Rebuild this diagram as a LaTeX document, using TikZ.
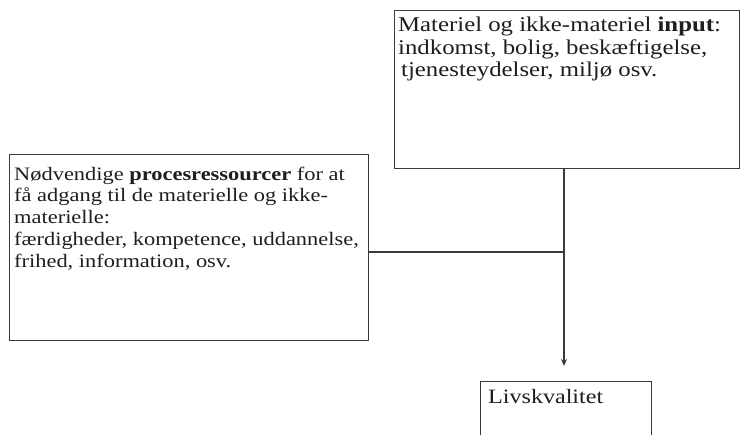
\documentclass[tikz,border=0pt]{standalone}
\usepackage{fontspec}
\setmainfont{Liberation Serif}[FakeStretch=1.18]
\usetikzlibrary{arrows.meta}
\definecolor{linegray}{HTML}{3A3A3A}
\definecolor{textgray}{HTML}{1E1E1E}
\begin{document}
\begin{tikzpicture}[x=1pt,y=-1pt,
  box/.style={draw=linegray, line width=1.4pt, inner sep=0pt, anchor=north west},
  txt/.style={anchor=base west, align=left, inner sep=0pt,
              font=\fontsize{19}{21.75}\selectfont, text=textgray},
  bigtxt/.style={txt, font=\fontsize{21}{22.5}\selectfont},
  conn/.style={draw=linegray, line width=1.4pt},
  arr/.style={conn, -{Stealth[length=7pt,width=6pt]}}]
\clip (0,0) rectangle (741,434);
\fill[white] (0,0) rectangle (741,434);
% boxes
\node[box, minimum width=345pt, minimum height=158pt] (inp) at (394,10) {};
\node[box, minimum width=359pt, minimum height=186pt] (proc) at (9,154) {};
\node[box, minimum width=171pt, minimum height=80pt] (liv) at (480,381) {};
% texts (base anchor = baseline of the last line)
\node[bigtxt] (inptxt) at (398,76.5) {Materiel og ikke-materiel \textbf{input}:\\
indkomst, bolig, beskæftigelse,\\
\hspace{3pt}tjenesteydelser, miljø osv.};
\node[txt] (proctxt) at (14,267) {Nødvendige \textbf{procesressourcer} for at\\
få adgang til de materielle og ikke-\\
materielle:\\
færdigheder, kompetence, uddannelse,\\
frihed, information, osv.};
\node[txt, font=\fontsize{20.4}{22}\selectfont] (livtxt) at (488,403) {Livskvalitet};
% connectors
\coordinate (j) at (564,252);
\coordinate (tip) at (564,366);
\draw[conn] (inp.south -| j) -- (j);
\draw[conn] (proc.east |- j) -- (j);
\draw[arr] (j) -- (tip);
\end{tikzpicture}
\end{document}
